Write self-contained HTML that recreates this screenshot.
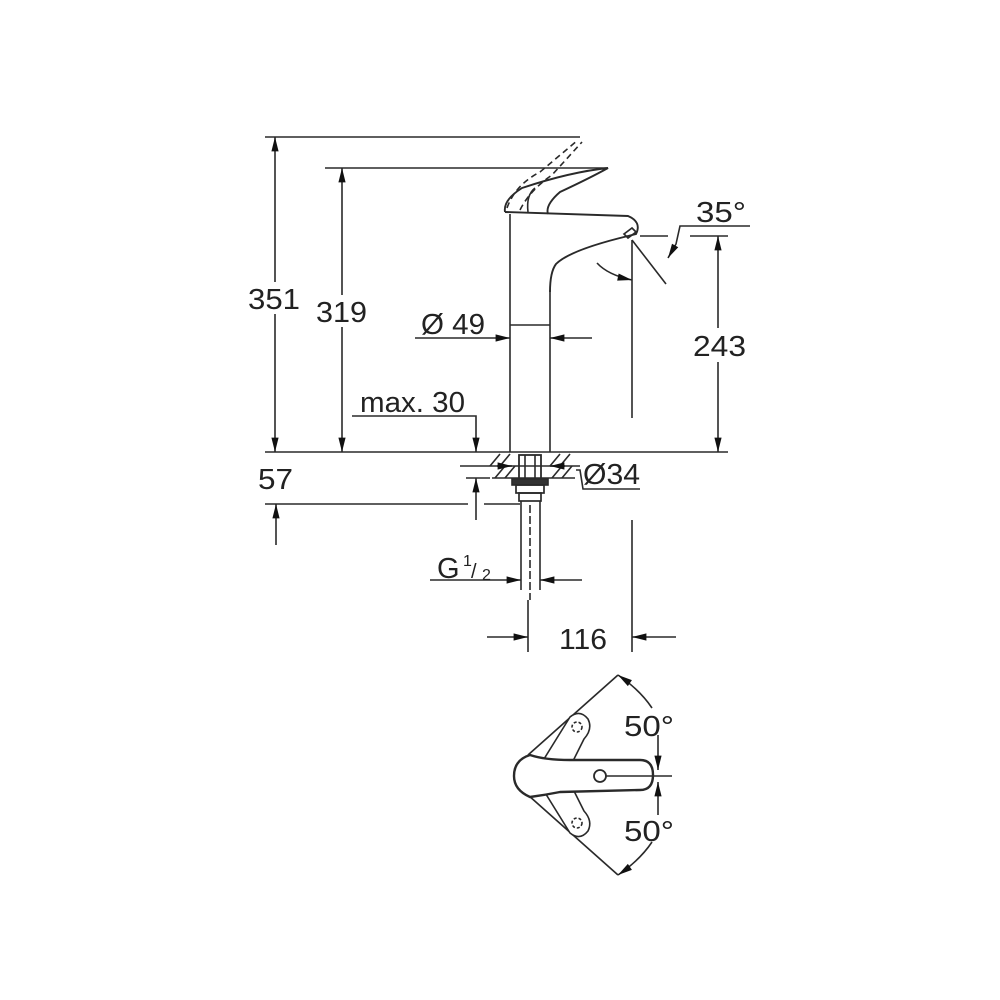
<!DOCTYPE html>
<html><head><meta charset="utf-8"><style>
html,body{margin:0;padding:0;background:#fff;}
svg{display:block}
text{font-family:"Liberation Sans",sans-serif;fill:#222;}
</style></head><body>
<svg width="1000" height="1000" viewBox="0 0 1000 1000" xmlns="http://www.w3.org/2000/svg">
<defs>
<marker id="b" viewBox="0 0 16 10" refX="16" refY="5" markerWidth="16" markerHeight="9" orient="auto-start-reverse" markerUnits="userSpaceOnUse"><path d="M0,1 L16,5 L0,9 z" fill="#111"/></marker>
</defs>
<g stroke="#2a2a2a" stroke-width="1.6" fill="none">
<line x1="265" y1="137" x2="580" y2="137"/>
<line x1="325" y1="168" x2="608" y2="168"/>
<line x1="265" y1="452" x2="728" y2="452"/>
<line x1="265" y1="504" x2="468" y2="504"/>
<line x1="484" y1="504" x2="520" y2="504"/>
<line x1="275" y1="137" x2="275" y2="285" marker-start="url(#b)"/>
<line x1="275" y1="312" x2="275" y2="452" marker-end="url(#b)"/>
<line x1="342" y1="168" x2="342" y2="298" marker-start="url(#b)"/>
<line x1="342" y1="326" x2="342" y2="452" marker-end="url(#b)"/>
<line x1="276" y1="545" x2="276" y2="504" marker-end="url(#b)"/>
<polyline points="352,416 476,416 476,452" marker-end="url(#b)"/>
<line x1="476" y1="520" x2="476" y2="478" marker-end="url(#b)"/>
<line x1="466" y1="478" x2="490" y2="478"/>
<line x1="690" y1="236" x2="728" y2="236"/>
<line x1="718" y1="330" x2="718" y2="236" marker-end="url(#b)"/>
<line x1="718" y1="362" x2="718" y2="452" marker-end="url(#b)"/>
<line x1="640" y1="236" x2="668" y2="236"/>
<polyline points="750,226 680,226 676,244 668,258" marker-end="url(#b)"/>
<line x1="632" y1="240" x2="666" y2="284"/>
<path d="M597,263 Q608,275 632,280" marker-end="url(#b)"/>
<line x1="632" y1="240" x2="632" y2="418"/>
<line x1="632" y1="520" x2="632" y2="652"/>
<line x1="510" y1="214" x2="510" y2="452"/>
<line x1="550" y1="290" x2="550" y2="452"/>
<line x1="510" y1="325" x2="550" y2="325"/>
<path d="M505,212 L628,216 Q642,222 636,234 L628,236 Q570,250 556,264 Q550,272 550,292" stroke-width="1.9"/>
<path d="M505,212 Q503,200 522,188 Q570,172 608,168 Q590,178 560,192 Q545,205 548,214" stroke-width="1.9"/>
<path d="M528,212 Q526,195 535,188" />
<path d="M624,234 l8,-6 l4,4 l-8,6 z" stroke-width="1.7"/>
<path d="M507,208 Q515,185 540,172 L578,140" stroke-dasharray="6,4"/>
<path d="M520,210 Q530,190 552,175 L582,142" stroke-dasharray="6,4"/>
<line x1="415" y1="338" x2="510" y2="338" marker-end="url(#b)"/>
<line x1="592" y1="338" x2="550" y2="338" marker-end="url(#b)"/>
<rect x="519" y="455" width="22" height="24" stroke-width="1.8"/>
<line x1="525" y1="455" x2="525" y2="479"/><line x1="535" y1="455" x2="535" y2="479"/>
<line x1="460" y1="466" x2="580" y2="466"/>
<line x1="492" y1="478" x2="575" y2="478"/>
<path d="M490,466 l10,-12 M500,466 l10,-12 M495,478 l10,-12 M505,478 l10,-12 M550,466 l10,-12 M560,466 l10,-12 M552,478 l10,-12 M562,478 l10,-12"/>
<polyline points="576,470 580,470 583,489 640,489"/>
<rect x="512" y="479" width="36" height="6" fill="#333"/>
<rect x="516" y="485" width="28" height="8" stroke-width="1.7"/>
<rect x="519" y="493" width="22" height="8" stroke-width="1.7"/>
<line x1="521" y1="501" x2="521" y2="590"/>
<line x1="540" y1="501" x2="540" y2="590"/>
<line x1="530" y1="505" x2="530" y2="600" stroke-dasharray="8,3"/>
<line x1="497" y1="466" x2="512" y2="466" marker-end="url(#b)"/>
<line x1="565" y1="466" x2="550" y2="466" marker-end="url(#b)"/>
<line x1="430" y1="580" x2="521" y2="580" marker-end="url(#b)"/>
<line x1="582" y1="580" x2="540" y2="580" marker-end="url(#b)"/>
<line x1="528" y1="600" x2="528" y2="652"/>
<line x1="487" y1="637" x2="528" y2="637" marker-end="url(#b)"/>
<line x1="676" y1="637" x2="632" y2="637" marker-end="url(#b)"/>
<line x1="528" y1="755" x2="618" y2="675"/>
<line x1="528" y1="795" x2="618" y2="875"/>
<path d="M618,675 Q640,690 652,708" marker-start="url(#b)"/>
<path d="M618,875 Q640,860 652,842" marker-start="url(#b)"/>
<path d="M570,717 q10,-8 18,2 q5,10 -4,20 l-15,30 l-25,-10 z" stroke-width="1.6" fill="#fff"/>
<path d="M570,833 q10,8 18,-2 q5,-10 -4,-20 l-15,-30 l-25,10 z" stroke-width="1.6" fill="#fff"/>
<circle cx="577" cy="727" r="5" stroke-dasharray="3,2"/>
<circle cx="577" cy="823" r="5" stroke-dasharray="3,2"/>
<path d="M530,755 Q545,760 570,760 L640,760 Q653,760 653,775 Q653,790 640,790 L560,792 Q545,795 530,797 Q514,790 514,776 Q514,760 530,755 z" stroke-width="2.4" fill="#fff"/>
<circle cx="600" cy="776" r="6" stroke-width="1.8"/>
<line x1="606" y1="776" x2="672" y2="776"/>
<line x1="658" y1="735" x2="658" y2="770" marker-end="url(#b)"/>
<line x1="658" y1="815" x2="658" y2="782" marker-end="url(#b)"/>
</g>
<g font-size="29">
<rect x="246" y="282" width="56" height="32" fill="#fff"/>
<text x="248" y="309" textLength="52" lengthAdjust="spacingAndGlyphs">351</text>
<rect x="314" y="295" width="56" height="32" fill="#fff"/>
<text x="316" y="322" textLength="51" lengthAdjust="spacingAndGlyphs">319</text>
<text x="360" y="412" textLength="105" lengthAdjust="spacingAndGlyphs">max. 30</text>
<text x="258" y="489" textLength="35" lengthAdjust="spacingAndGlyphs">57</text>
<text x="421" y="334" textLength="64" lengthAdjust="spacingAndGlyphs">Ø 49</text>
<text x="696" y="222" textLength="50" lengthAdjust="spacingAndGlyphs">35°</text>
<rect x="690" y="328" width="60" height="32" fill="#fff"/>
<text x="693" y="356" textLength="53" lengthAdjust="spacingAndGlyphs">243</text>
<text x="583" y="484" textLength="57" lengthAdjust="spacingAndGlyphs">Ø34</text>
<text x="437" y="578">G</text>
<text x="463" y="566" font-size="16">1</text>
<text x="471" y="578" font-size="20">/</text>
<text x="482" y="580" font-size="16">2</text>
<text x="559" y="649" textLength="48" lengthAdjust="spacingAndGlyphs">116</text>
<text x="624" y="736" textLength="50" lengthAdjust="spacingAndGlyphs">50°</text>
<text x="624" y="841" textLength="50" lengthAdjust="spacingAndGlyphs">50°</text>
</g>
</svg>
</body></html>
